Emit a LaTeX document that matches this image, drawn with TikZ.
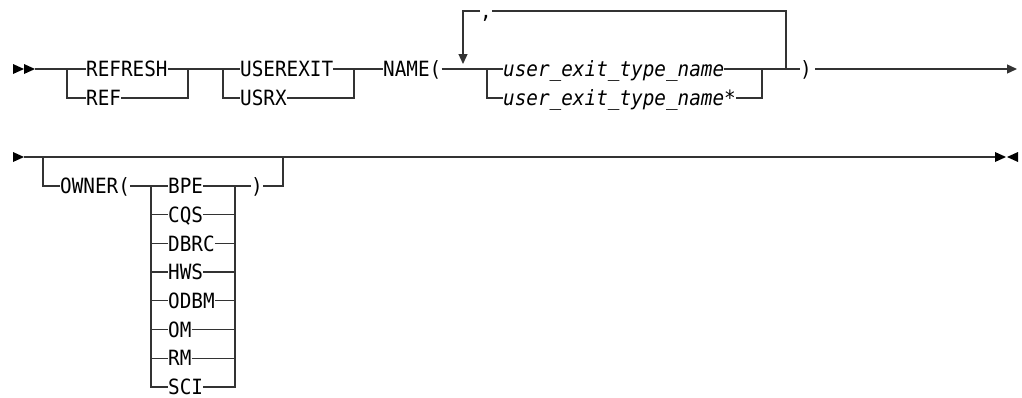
\documentclass[tikz,border=0pt]{standalone}
\usepackage{fontspec}
\setmonofont{DejaVu Sans Mono}[FakeStretch=0.92]
\usepackage{tikz}
\usetikzlibrary{positioning, arrows.meta}
\definecolor{railgray}{HTML}{333333}

\begin{document}
\begin{tikzpicture}[x=1pt, y=-1pt, >={Triangle[length=10pt,width=9pt]},
    rail/.style={draw=railgray, line width=1.3pt},
    kw/.style={anchor=west, inner sep=0pt, text height=15.5pt, text depth=0pt,
               font=\ttfamily\fontsize{21}{21}\selectfont},
    var/.style={kw, font=\ttfamily\itshape\fontsize{21}{21}\selectfont}]
      \useasboundingbox (0,0) rectangle (1022,397);

      \node[kw] (refresh) at (86,69) {REFRESH};
      \node[kw] (ref) at (86,98) {REF};
      \node[kw] (userexit) at (240,69) {USEREXIT};
      \node[kw] (usrx) at (240,98) {USRX};
      \node[kw] (name) at (383,69) {NAME(};
      \node[var] (uetn) at (503,69) {user\_exit\_type\_name};
      \node[var] (uetnstar) at (503,98) {user\_exit\_type\_name*};
      \node[kw] (comma) at (480,11) {,};
      \node[kw] (close1) at (800,69) {)};

      \coordinate (s1) at (35,69);
      \coordinate (a1) at (67,69);
      \coordinate (a2) at (188,69);
      \coordinate (b1) at (223,69);
      \coordinate (b2) at (354,69);
      \coordinate (c1) at (487,69);
      \coordinate (c2) at (762,69);
      \coordinate (l1) at (786,69);
      \coordinate (l2) at (463,64);
      \coordinate (e1) at (1017,69);

      \fill (13,64) -- (24,69) -- (13,74) -- cycle;
      \fill (24,64) -- (35,69) -- (24,74) -- cycle;

      \draw[rail] (s1) -- (refresh.west);
      \draw[rail] (a1) |- (ref.west);
      \draw[rail] (ref.east) -| (a2);
      \draw[rail] (refresh.east) -- (userexit.west);
      \draw[rail] (b1) |- (usrx.west);
      \draw[rail] (usrx.east) -| (b2);
      \draw[rail] (userexit.east) -- (name.west);
      \draw[rail] (name.east) -- (uetn.west);
      \draw[rail] (c1) |- (uetnstar.west);
      \draw[rail] (uetnstar.east) -| (c2);
      \draw[rail] (uetn.east) -- (close1.west);
      \draw[rail] (l1) |- (comma.east);
      \draw[rail, ->] (comma.west) -| (l2);
      \draw[rail, ->] ([xshift=3pt]close1.east) -- (e1);

      \node[kw] (owner) at (60,186) {OWNER(};
      \foreach \opt [count=\i from 0] in {BPE,CQS,DBRC,HWS,ODBM,OM,RM,SCI}
        \node[kw] (opt\i) at (168,{186+\i*28.7}) {\opt};
      \node[kw] (close2) at (251,186) {)};

      \coordinate (s2) at (24,157);
      \coordinate (d1) at (43,157);
      \coordinate (d2) at (283,157);
      \coordinate (e2) at (995,157);
      \coordinate (o1) at (151,186);
      \coordinate (o2) at (235,186);

      \fill (13,152) -- (24,157) -- (13,162) -- cycle;
      \fill (995,152) -- (1006,157) -- (995,162) -- cycle;
      \fill (1018,152) -- (1007,157) -- (1018,162) -- cycle;

      \draw[rail] (s2) -- (e2);
      \draw[rail] (d1) |- (owner.west);
      \draw[rail] (owner.east) -- (opt0.west);
      \draw[rail] (opt0.east) -- (close2.west);
      \foreach \i in {1,...,7} {
        \draw[rail] (o1) |- (opt\i.west);
        \draw[rail] (opt\i.east) -| (o2);
      }
      \draw[rail] (close2.east) -| (d2);
    \end{tikzpicture}
\end{document}
